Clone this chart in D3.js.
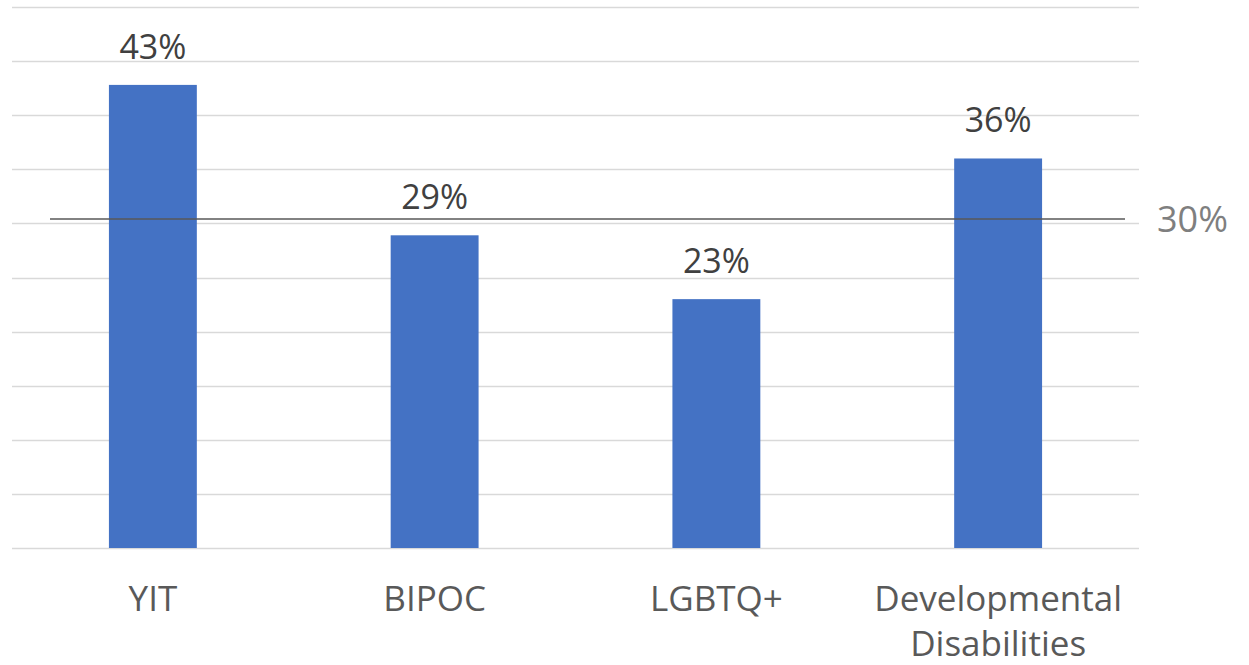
<!DOCTYPE html>
<html>
<head>
<meta charset="utf-8">
<script src="https://cdn.jsdelivr.net/npm/d3@7"></script>
<style>
  body { margin: 0; background: #fff; }
  svg { display: block; font-family: "Open Sans", sans-serif; }
</style>
</head>
<body>
<div id="chart"></div>
<script>
// chart data
var categories = ["YIT", "BIPOC", "LGBTQ+", "Developmental Disabilities"];
var values = [42.8, 28.9, 23, 36];
var valueLabels = ["43%", "29%", "23%", "36%"];
var targetValue = 30.4;
var targetLabel = "30%";
var gridTicks = [0, 5, 10, 15, 20, 25, 30, 35, 40, 45, 50];

var width = 1249, height = 665;
var plotLeft = 12, plotRight = 1139, plotTop = 7, plotBottom = 548;

var svg = d3.select("#chart").append("svg")
    .attr("width", width)
    .attr("height", height);

var x = d3.scaleBand()
    .domain(categories)
    .range([plotLeft, plotRight])
    .paddingInner(0.688)
    .paddingOuter(0.344);

var y = d3.scaleLinear()
    .domain([0, 50])
    .range([plotBottom, plotTop]);

// gridlines
svg.append("g")
    .selectAll("line")
    .data(gridTicks)
    .enter().append("line")
    .attr("x1", plotLeft)
    .attr("x2", plotRight)
    .attr("y1", function(d) { return Math.round(y(d)) + 0.5; })
    .attr("y2", function(d) { return Math.round(y(d)) + 0.5; })
    .attr("stroke", "#d9d9d9")
    .attr("stroke-width", 1.5);

// bars
svg.append("g")
    .selectAll("rect")
    .data(values)
    .enter().append("rect")
    .attr("x", function(d, i) { return x(categories[i]); })
    .attr("y", function(d) { return y(d); })
    .attr("width", x.bandwidth())
    .attr("height", function(d) { return plotBottom - y(d); })
    .attr("fill", "#4472c4");

// value labels
svg.append("g")
    .selectAll("text")
    .data(values)
    .enter().append("text")
    .attr("x", function(d, i) { return x(categories[i]) + x.bandwidth() / 2; })
    .attr("y", function(d) { return y(d) - 26; })
    .attr("text-anchor", "middle")
    .attr("font-size", 34)
    .attr("fill", "#404040")
    .text(function(d, i) { return valueLabels[i]; });

// category labels, wrapped on spaces for the long one
var catG = svg.append("g");
categories.forEach(function(c) {
  var words = c.split(" ");
  var t = catG.append("text")
      .attr("x", x(c) + x.bandwidth() / 2)
      .attr("y", 611)
      .attr("text-anchor", "middle")
      .attr("font-size", 35)
      .attr("fill", "#595959");
  if (words.length > 1 && c.length > 12) {
    words.forEach(function(w, i) {
      t.append("tspan")
        .attr("x", x(c) + x.bandwidth() / 2)
        .attr("dy", i == 0 ? 0 : 45)
        .text(w);
    });
  } else {
    t.text(c);
  }
});

// 30% reference line
svg.append("line")
    .attr("x1", 50)
    .attr("x2", 1125)
    .attr("y1", y(targetValue))
    .attr("y2", y(targetValue))
    .attr("stroke", "#595959")
    .attr("stroke-width", 1.5);

svg.append("text")
    .attr("x", 1157)
    .attr("y", y(targetValue) + 13)
    .attr("font-size", 36)
    .attr("fill", "#7f7f7f")
    .text(targetLabel);
</script>
</body>
</html>
